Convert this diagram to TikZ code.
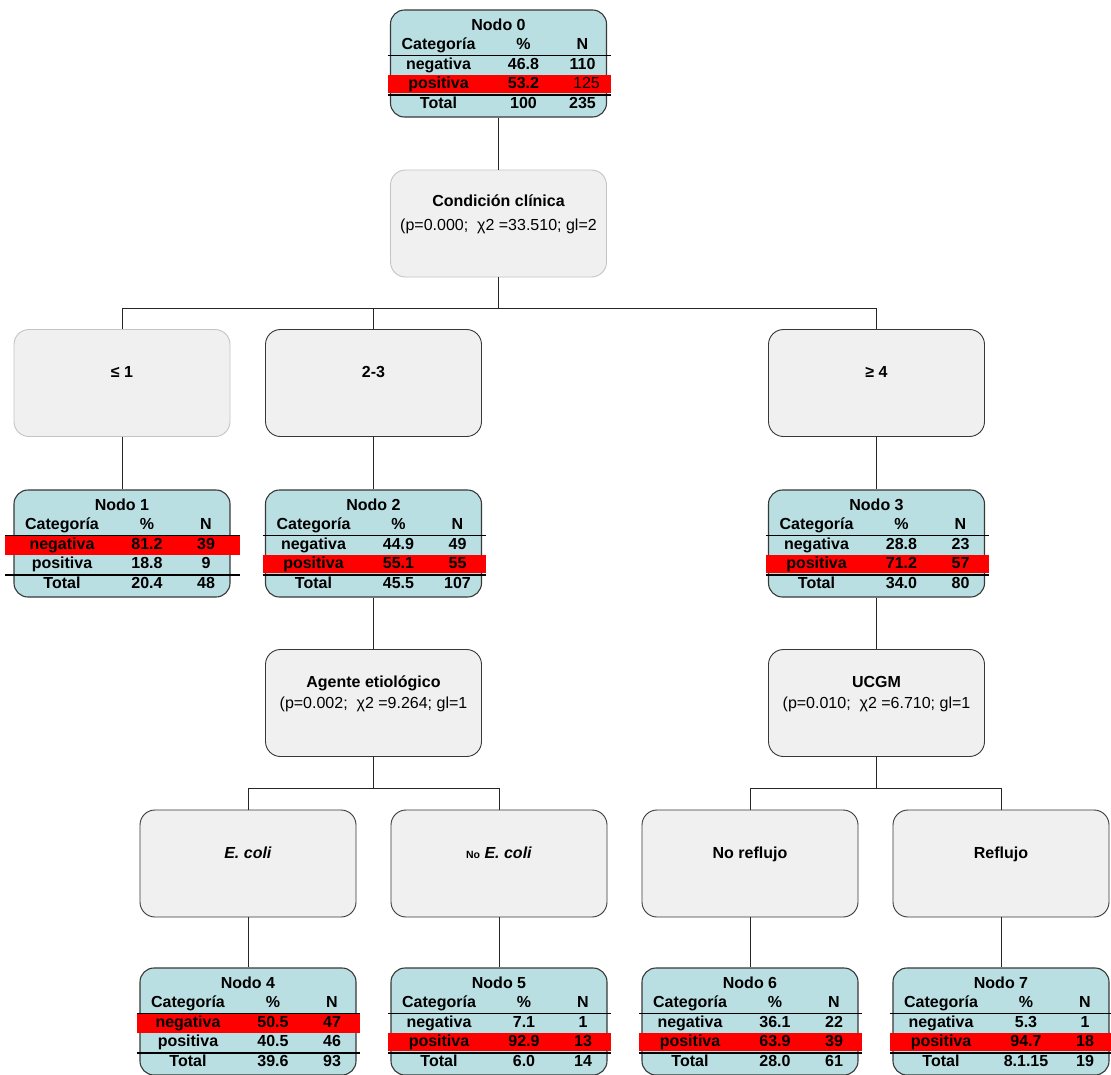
\documentclass[tikz,border=0pt]{standalone}
\usepackage{fontspec}
\setmainfont{Liberation Sans}
\definecolor{tblue}{HTML}{B9DFE3}
\definecolor{sgray}{HTML}{F0F0F0}
\definecolor{lborder}{HTML}{C4C4C4}
\definecolor{dborder}{HTML}{383838}
\tikzset{
  every node/.style={font=\fontsize{16}{19}\selectfont\bfseries, inner sep=0pt, text height=11.5pt, text depth=3pt},
  tabbox/.style={draw=dborder, line width=1.1pt, fill=tblue, rounded corners=14pt, minimum width=216pt, minimum height=107pt, text height=, text depth=},
  splitbox/.style={draw=dborder, line width=0.9pt, fill=sgray, rounded corners=15pt, minimum width=216pt, minimum height=107pt, text height=, text depth=},
  splitlight/.style={splitbox, draw=lborder},
  tabrule/.style={line width=1.5pt, black},
  hlband/.style={fill=red},
  conn/.style={line width=0.9pt, draw=black!85},
  reg/.style={font=\fontsize{16}{19}\selectfont\mdseries},
}
\def\tnXL{3}
\def\tnXR{4}
\newcommand\tabnode[9]{%
  \def\tnId{#1}\def\tnL{#2}\def\tnT{#3}\def\tnHL{#4}%
  \def\tnA{#5}\def\tnB{#6}\def\tnC{#7}\def\tnD{#8}\def\tnE{#9}\tabnodeB}
\newcommand\tabnodeB[1]{%
  \node[tabbox] (n\tnId) at (\tnL+108,\tnT+53.5) {};
  \ifnum\tnHL=1
    \fill[hlband] (\tnL-\tnXL,\tnT+46) rectangle (\tnL+216+\tnXR,\tnT+64.5);
  \else
    \fill[hlband] (\tnL-\tnXL,\tnT+64.5) rectangle (\tnL+216+\tnXR,\tnT+83);
  \fi
  \draw[tabrule] (\tnL-\tnXL,\tnT+45.3) -- (\tnL+216+\tnXR,\tnT+45.3);
  \draw[tabrule] (\tnL-\tnXL,\tnT+84.8) -- (\tnL+216+\tnXR,\tnT+84.8);
  \node (n\tnId-t) at (\tnL+108,\tnT+16) {Nodo \tnId};
  \node (n\tnId-hc) at (\tnL+48,\tnT+35) {Categoría};
  \node (n\tnId-hp) at (\tnL+133,\tnT+35) {\%};
  \node (n\tnId-hn) at (\tnL+192,\tnT+35) {N};
  \node (n\tnId-ac) at (\tnL+48,\tnT+55) {negativa};
  \node (n\tnId-ap) at (\tnL+133,\tnT+55) {\tnA};
  \node (n\tnId-an) at (\tnL+192,\tnT+55) {\tnB};
  \node (n\tnId-bc) at (\tnL+48,\tnT+74) {positiva};
  \node (n\tnId-bp) at (\tnL+133,\tnT+74) {\tnC};
  \node (n\tnId-bn) at (\tnL+192,\tnT+74) {\tnD};
  \node (n\tnId-cc) at (\tnL+48,\tnT+94.5) {Total};
  \node (n\tnId-cp) at (\tnL+133,\tnT+94.5) {\tnE};
  \node (n\tnId-cn) at (\tnL+192,\tnT+94.5) {#1};
}
\begin{document}
\begin{tikzpicture}[x=1pt,y=-1pt]
\fill[white] (0,0) rectangle (1111,1074);
\useasboundingbox (0,0) rectangle (1111,1074);

% tables
\tabnode{0}{390.5}{10}{2}{46.8}{110}{53.2}{\mdseries\hspace{8pt}125}{100}{235}
\def\tnXL{9}\def\tnXR{10}
\tabnode{1}{14}{490}{1}{81.2}{39}{18.8}{9}{20.4}{48}
\def\tnXL{3}\def\tnXR{4}
\tabnode{2}{265.5}{490}{2}{44.9}{49}{55.1}{55}{45.5}{107}
\tabnode{3}{768.5}{490}{2}{28.8}{23}{71.2}{57}{34.0}{80}
\tabnode{4}{140}{968}{1}{50.5}{47}{40.5}{46}{39.6}{93}
\tabnode{5}{391}{968}{2}{7.1}{1}{92.9}{13}{6.0}{14}
\tabnode{6}{642}{968}{2}{36.1}{22}{63.9}{39}{28.0}{61}
\tabnode{7}{893}{968}{2}{5.3}{1}{94.7}{18}{8.1.15}{19}

% split boxes
\node[splitlight] (cond) at (498.5,223.5) {};
\node (cond-a) at (498.5,202) {Condición clínica};
\node[reg] (cond-b) at (498.5,226) {(p=0.000;~ χ2 =33.510; gl=2};

\node[splitlight] (le1) at (122,383) {};
\node (le1-a) at (122,373) {≤ 1};
\node[splitbox] (r23) at (373.5,383) {};
\node (r23-a) at (373.5,373) {2-3};
\node[splitbox] (ge4) at (876.5,383) {};
\node (ge4-a) at (876.5,373) {≥ 4};

\node[splitbox] (agente) at (373.5,703) {};
\node (agente-a) at (373.5,683) {Agente etiológico};
\node[reg] (agente-b) at (373.5,704) {(p=0.002;~ χ2 =9.264; gl=1};
\node[splitbox] (ucgm) at (876.5,703) {};
\node (ucgm-a) at (876.5,683) {UCGM};
\node[reg] (ucgm-b) at (876.5,704) {(p=0.010;~ χ2 =6.710; gl=1};

\node[splitbox] (ecoli) at (248,863.5) {};
\node (ecoli-a) at (248,854) {\textit{E. coli}};
\node[splitbox] (noecoli) at (499,863.5) {};
\node (noecoli-a) at (499,854) {{\fontsize{10.5}{12}\selectfont No} \textit{E. coli}};
\node[splitbox] (noref) at (750,863.5) {};
\node (noref-a) at (750,854) {No reflujo};
\node[splitbox] (ref) at (1001,863.5) {};
\node (ref-a) at (1001,854) {Reflujo};

% connectors
\draw[conn] (n0.south) -- (cond.north);
\draw[conn] (cond.south) -- ++(0,31) coordinate (bus1);
\draw[conn] (bus1) -| (le1.north);
\draw[conn] (bus1) -| (r23.north);
\draw[conn] (bus1) -| (ge4.north);
\draw[conn] (le1.south) -- (n1.north);
\draw[conn] (r23.south) -- (n2.north);
\draw[conn] (ge4.south) -- (n3.north);
\draw[conn] (n2.south) -- (agente.north);
\draw[conn] (n3.south) -- (ucgm.north);
\draw[conn] (agente.south) -- ++(0,31) coordinate (bus2);
\draw[conn] (bus2) -| (ecoli.north);
\draw[conn] (bus2) -| (noecoli.north);
\draw[conn] (ucgm.south) -- ++(0,31) coordinate (bus3);
\draw[conn] (bus3) -| (noref.north);
\draw[conn] (bus3) -| (ref.north);
\draw[conn] (ecoli.south) -- (n4.north);
\draw[conn] (noecoli.south) -- (n5.north);
\draw[conn] (noref.south) -- (n6.north);
\draw[conn] (ref.south) -- (n7.north);
\end{tikzpicture}
\end{document}
